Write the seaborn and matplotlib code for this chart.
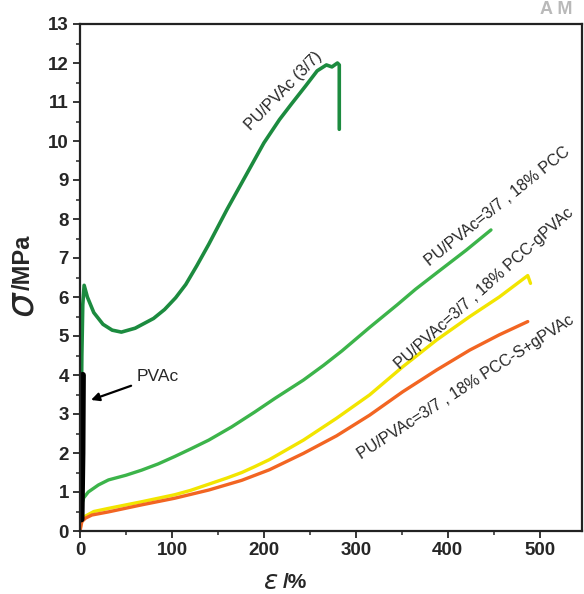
"""
Stress-strain curves of PU/PVAc blends and PCC composites.
"""
import pandas as pd
import matplotlib
matplotlib.use('Agg')
import matplotlib.pyplot as plt
import seaborn as sns
from matplotlib.ticker import MultipleLocator

# PU/PVAc (3/7)
blend_strain = [0, 1, 2, 3, 4.5, 8, 15, 25, 35, 45, 60, 80, 92, 104, 115, 127, 140, 160,
                180, 200, 217, 230, 245, 258, 268, 274, 280, 282, 282]
blend_stress = [0, 2.0, 4.5, 5.8, 6.3, 6.0, 5.6, 5.3, 5.15, 5.1, 5.2, 5.45, 5.68, 5.98,
                6.32, 6.8, 7.35, 8.25, 9.1, 9.95, 10.55, 10.95, 11.4, 11.8, 11.95, 11.9,
                12.0, 11.95, 10.3]

# PU/PVAc=3/7, 18% PCC
pcc_strain = [0, 0.5, 1.5, 4, 9, 20, 31, 50, 67, 85, 103, 120, 140, 165, 190, 212,
              243, 265, 285, 315, 345, 365, 388, 420, 447]
pcc_stress = [0, 0.35, 0.65, 0.85, 1.0, 1.18, 1.31, 1.43, 1.56, 1.72, 1.91, 2.1, 2.33,
              2.67, 3.05, 3.4, 3.87, 4.25, 4.62, 5.22, 5.8, 6.2, 6.62, 7.2, 7.72]

# PU/PVAc=3/7, 18% PCC-gPVAc
gpvac_strain = [0, 1, 5, 15, 31, 67, 103, 120, 140, 160, 176, 190, 206, 243, 279, 315,
                351, 388, 424, 456, 487, 490]
gpvac_stress = [0, 0.2, 0.37, 0.5, 0.58, 0.75, 0.93, 1.04, 1.2, 1.36, 1.5, 1.65, 1.83,
                2.33, 2.89, 3.49, 4.21, 4.9, 5.5, 6.0, 6.55, 6.35]

# PU/PVAc=3/7, 18% PCC-S+gPVAc
spvac_strain = [0, 2, 6, 13, 31, 67, 103, 140, 176, 206, 243, 279, 315, 351, 388,
                424, 456, 487]
spvac_stress = [0, 0.24, 0.33, 0.41, 0.49, 0.67, 0.84, 1.05, 1.3, 1.57, 1.99, 2.44,
                2.97, 3.57, 4.13, 4.64, 5.03, 5.37]

# PVAc
pvac_strain = [1.5, 2.5, 3.0]
pvac_stress = [0.3, 2.0, 4.0]

series = [
    (blend_strain, blend_stress, '#1c8b3f', 2.6),
    (pcc_strain, pcc_stress, '#3cb44a', 2.4),
    (gpvac_strain, gpvac_stress, '#f2e500', 2.4),
    (spvac_strain, spvac_stress, '#f26522', 2.4),
    (pvac_strain, pvac_stress, 'black', 4.5),
]

sns.set_style('ticks')
plt.rcParams['font.family'] = ['Liberation Sans', 'DejaVu Sans']

fig = plt.figure(figsize=(5.84, 5.94), dpi=100)
ax = fig.add_axes([80 / 584, 63 / 594, 502 / 584, 507 / 594])

for xs, ys, color, lw in series:
    df = pd.DataFrame({'strain': xs, 'stress': ys})
    sns.lineplot(data=df, x='strain', y='stress', sort=False, estimator=None,
                 color=color, lw=lw, ax=ax)

ax.set_xlim(0, 546)
ax.set_ylim(0, 13)
ax.xaxis.set_major_locator(MultipleLocator(100))
ax.xaxis.set_minor_locator(MultipleLocator(50))
ax.yaxis.set_major_locator(MultipleLocator(1))
ax.yaxis.set_minor_locator(MultipleLocator(0.5))
ax.tick_params(which='major', direction='out', length=5, width=1.3,
               labelsize=13.5, pad=3)
ax.tick_params(which='minor', direction='out', length=3, width=1.1)
for lab in ax.get_xticklabels() + ax.get_yticklabels():
    lab.set_fontweight('bold')
for sp in ax.spines.values():
    sp.set_linewidth(1.6)
    sp.set_color('#222222')
ax.set_xlabel('')
ax.set_ylabel('')

# curve labels
ax.text(221, 11.28, 'PU/PVAc (3/7)', rotation=45.7, rotation_mode='anchor',
        ha='center', va='center', fontsize=11.5)
ax.text(454, 8.31, 'PU/PVAc=3/7 , 18% PCC', rotation=38.7, rotation_mode='anchor',
        ha='center', va='center', fontsize=11.5)
ax.text(440, 6.23, 'PU/PVAc=3/7 , 18% PCC-gPVAc', rotation=41.8,
        rotation_mode='anchor', ha='center', va='center', fontsize=11.5)
ax.text(419, 3.69, 'PU/PVAc=3/7 , 18% PCC-S+gPVAc', rotation=32.7,
        rotation_mode='anchor', ha='center', va='center', fontsize=11.5)
ax.annotate('PVAc', xy=(12, 3.36), xytext=(62, 3.97), fontsize=12.5,
            ha='left', va='center',
            arrowprops=dict(arrowstyle='-|>', color='black', lw=1.6,
                            mutation_scale=12, shrinkA=2, shrinkB=0))

# axis labels
fig.text(24 / 584, 1 - 304 / 594, r'$\sigma$', rotation=90, ha='center',
         va='center', fontsize=28, family='Liberation Serif', style='italic')
fig.text(23 / 584, 1 - 262 / 594, '/MPa', rotation=90, ha='center', va='center',
         fontsize=17, fontweight='bold')
fig.text(271 / 584, 1 - 582 / 594, r'$\varepsilon$', ha='center', va='center',
         fontsize=19)
fig.text(295 / 584, 1 - 582 / 594, '/%', ha='center', va='center', fontsize=15,
         fontweight='bold')

# journal logo fragment at the top right
fig.text(556 / 584, 1 - 10 / 594, 'A M', ha='center', va='center', fontsize=13,
         fontweight='bold', color='#a8a8a8', alpha=0.8)

fig.savefig('out.png', dpi=100)
